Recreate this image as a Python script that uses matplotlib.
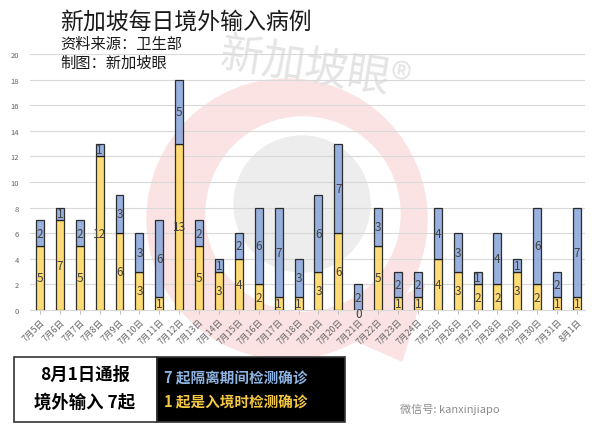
import matplotlib
matplotlib.use("Agg")
import matplotlib.pyplot as plt
from matplotlib.patches import Rectangle, Circle, Polygon
import numpy as np

plt.rcParams['font.family'] = ['Noto Sans CJK SC', 'DejaVu Sans']

dates = ["7月5日", "7月6日", "7月7日", "7月8日", "7月9日", "7月10日", "7月11日",
         "7月12日", "7月13日", "7月14日", "7月15日", "7月16日", "7月17日", "7月18日",
         "7月19日", "7月20日", "7月21日", "7月22日", "7月23日", "7月24日", "7月25日",
         "7月26日", "7月27日", "7月28日", "7月29日", "7月30日", "7月31日", "8月1日"]
entry_cases = [5, 7, 5, 12, 6, 3, 1, 13, 5, 3, 4, 2, 1, 1, 3, 6, 0, 5, 1, 1, 4, 3, 2, 2, 3, 2, 1, 1]
quarantine_cases = [2, 1, 2, 1, 3, 3, 6, 5, 2, 1, 2, 6, 7, 3, 6, 7, 2, 3, 2, 2, 4, 3, 1, 4, 1, 6, 2, 7]
yticks = list(range(0, 21, 2))

W, H = 601, 439
fig = plt.figure(figsize=(W / 100, H / 100), dpi=100)

# background watermark (logo)
bg = fig.add_axes([0, 0, 1, 1], zorder=0)
bg.set_xlim(0, W); bg.set_ylim(H, 0); bg.axis('off')
bg.add_patch(Polygon([(340, 335), (402, 362), (425, 285)], closed=True, color='#fbe3e3', zorder=0))
bg.add_patch(Circle((287, 220), 140, color='#fbe3e3', zorder=0))
bg.add_patch(Circle((303, 215), 97, color='white', zorder=1))
bg.add_patch(Circle((302, 205), 68, color='#ededed', zorder=2))
bg.text(315, 70, "新加坡眼®", fontsize=31, color='#e4e4e4', ha='center', va='center',
        rotation=-9, fontweight='medium', zorder=3)

ax = fig.add_axes([30 / W, 1 - 311 / H, 555 / W, 256 / H], zorder=1)
ax.patch.set_alpha(0)
x = np.arange(len(dates))
bw = 0.4
yellow = '#FFD966'
blue = '#8EA9DB'
ax.bar(x, entry_cases, bw, color=yellow, edgecolor='#1a1a1a', linewidth=0.9, alpha=0.9, zorder=3)
ax.bar(x, quarantine_cases, bw, bottom=entry_cases, color=blue, edgecolor='#1a1a1a',
       linewidth=0.9, alpha=0.9, zorder=3)

for i in range(len(dates)):
    e, q = entry_cases[i], quarantine_cases[i]
    ax.text(x[i], e / 2 if e > 0 else -0.25, str(e), ha='center', va='center', fontsize=8.5,
            color='#404040', zorder=4)
    ax.text(x[i], e + q / 2, str(q), ha='center', va='center', fontsize=8.5,
            color='#404040', zorder=4)

ax.set_ylim(0, 20)
ax.set_xlim(-0.5, 27.4)
ax.set_yticks(yticks)
ax.set_yticklabels([str(v) for v in yticks])
ax.set_xticks(x)
ax.set_xticklabels(dates, rotation=45, ha='right', rotation_mode='anchor')
ax.tick_params(axis='y', length=0, labelsize=5.5, labelcolor='#666666', pad=8)
ax.tick_params(axis='x', length=3, color='#bfbfbf', labelsize=6.3, labelcolor='#666666', pad=2)
ax.grid(axis='y', color='#d9d9d9', linewidth=0.8, zorder=0)
for s in ['top', 'right', 'left']:
    ax.spines[s].set_visible(False)
ax.spines['bottom'].set_color('#d9d9d9')

# Titles
fig.text(60 / W, 1 - 22 / H, "新加坡每日境外输入病例", fontsize=16.5, color='#1a1a1a',
         va='center', ha='left')
fig.text(60 / W, 1 - 45 / H, "资料来源：卫生部", fontsize=11, color='#1a1a1a', va='center', ha='left')
fig.text(60 / W, 1 - 63 / H, "制图：新加坡眼", fontsize=11, color='#1a1a1a', va='center', ha='left')

# Bottom boxes
fig.patches.append(Rectangle((14 / W, 1 - 423 / H), 143 / W, 65 / H, transform=fig.transFigure,
                             facecolor='white', edgecolor='#333333', linewidth=1.2, zorder=5))
fig.patches.append(Rectangle((157 / W, 1 - 423 / H), 188 / W, 65 / H, transform=fig.transFigure,
                             facecolor='black', edgecolor='#333333', linewidth=1.2, zorder=5))
fig.text(85 / W, 1 - 375 / H, "8月1日通报", fontsize=12.5, fontweight='bold', color='black',
         ha='center', va='center', zorder=6)
fig.text(85 / W, 1 - 403 / H, "境外输入 7起", fontsize=12.5, fontweight='bold', color='black',
         ha='center', va='center', zorder=6)
fig.text(164 / W, 1 - 378 / H, "7 起隔离期间检测确诊", fontsize=10.5, fontweight='bold', color='#8DB4E2',
         ha='left', va='center', zorder=6)
fig.text(164 / W, 1 - 402 / H, "1 起是入境时检测确诊", fontsize=10.5, fontweight='bold', color='#F5C842',
         ha='left', va='center', zorder=6)
fig.text(400 / W, 1 - 409 / H, "微信号: kanxinjiapo", fontsize=8, color='#8c8c8c',
         ha='left', va='center', zorder=6)

fig.savefig("out.png", dpi=100)
